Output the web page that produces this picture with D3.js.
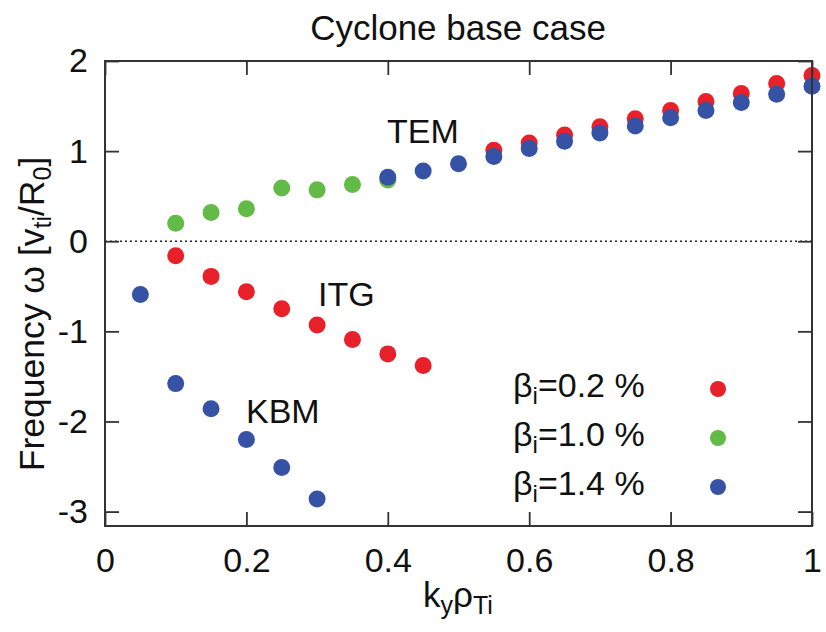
<!DOCTYPE html>
<html>
<head>
<meta charset="utf-8">
<script src="https://cdn.jsdelivr.net/npm/d3@7"></script>
<style>
  body { margin: 0; background: #fff; }
  text { font-family: "Liberation Sans", Arial, Helvetica, sans-serif; fill: #111; }
</style>
</head>
<body>
<div id="chart"></div>
<script>
var width = 826,
    height = 632;

// k_y rho_Ti values and frequencies
var kRed = [0.1, 0.15, 0.2, 0.25, 0.3, 0.35, 0.4, 0.45,
            0.55, 0.6, 0.65, 0.7, 0.75, 0.8, 0.85, 0.9, 0.95, 1.0];
var wRed = [-0.16, -0.39, -0.56, -0.75, -0.93, -1.09, -1.25, -1.38,
            1.01, 1.09, 1.18, 1.27, 1.36, 1.45, 1.55, 1.64, 1.75, 1.84];

var kGreen = [0.1, 0.15, 0.2, 0.25, 0.3, 0.35, 0.4];
var wGreen = [0.2, 0.32, 0.36, 0.59, 0.57, 0.63, 0.68];

var kBlue = [0.05, 0.1, 0.15, 0.2, 0.25, 0.3,
             0.4, 0.45, 0.5, 0.55, 0.6, 0.65, 0.7, 0.75, 0.8, 0.85, 0.9, 0.95, 1.0];
var wBlue = [-0.59, -1.58, -1.86, -2.2, -2.51, -2.86,
             0.71, 0.78, 0.86, 0.94, 1.03, 1.11, 1.2, 1.28, 1.37, 1.45, 1.54, 1.63, 1.72];

var seriesNames = ["0.2", "1.0", "1.4"];
var seriesColors = ["#e8202a", "#62bb46", "#3652a5"];

var xTicks = [0, 0.2, 0.4, 0.6, 0.8, 1];
var yTicks = [-3, -2, -1, 0, 1, 2];

var series = [
  { k: kRed, w: wRed },
  { k: kGreen, w: wGreen },
  { k: kBlue, w: wBlue }
];

var pLeft = 105, pRight = 812, pTop = 61, pBottom = 526;

var x = d3.scaleLinear().domain([0, 1]).range([pLeft, pRight]);
var y = d3.scaleLinear().domain([-3.16, 2]).range([pBottom, pTop]);

var svg = d3.select("#chart").append("svg")
    .attr("width", width)
    .attr("height", height);

// zero line
svg.append("line")
    .attr("x1", x(0)).attr("x2", x(1))
    .attr("y1", y(0)).attr("y2", y(0))
    .attr("stroke", "#222")
    .attr("stroke-width", 1.6)
    .attr("stroke-dasharray", "2,3");

// points, red first so blue sits on top
series.forEach(function(s, i) {
  svg.append("g").selectAll("circle")
      .data(s.k.map(function(k, j) { return { k: k, w: s.w[j] }; }))
      .enter().append("circle")
        .attr("cx", function(d) { return x(d.k); })
        .attr("cy", function(d) { return y(d.w); })
        .attr("r", 8.5)
        .attr("fill", seriesColors[i]);
});

// axes, ticks pointing inward on every side
var fontSize = "34px";

var gb = svg.append("g")
    .attr("transform", "translate(0," + pBottom + ")")
    .call(d3.axisBottom(x).tickValues(xTicks).tickSize(-14).tickPadding(22)
      .tickFormat(function(d) { return d3.format("~g")(d); }));
var gl = svg.append("g")
    .attr("transform", "translate(" + pLeft + ",0)")
    .call(d3.axisLeft(y).tickValues(yTicks).tickSize(-14).tickPadding(17)
      .tickFormat(function(d) { return String(d); }));
var gt = svg.append("g")
    .attr("transform", "translate(0," + pTop + ")")
    .call(d3.axisTop(x).tickValues(xTicks).tickSize(-14).tickFormat(""));
var gr = svg.append("g")
    .attr("transform", "translate(" + pRight + ",0)")
    .call(d3.axisRight(y).tickValues(yTicks).tickSize(-14).tickFormat(""));

[gb, gl, gt, gr].forEach(function(g) {
  g.select(".domain").remove();
  g.selectAll(".tick line").attr("stroke", "#333").attr("stroke-width", 1.8);
  g.selectAll("text")
      .attr("font-size", fontSize)
      .attr("font-family", "Liberation Sans, Arial, sans-serif")
      .attr("fill", "#111");
});

svg.append("rect")
    .attr("x", pLeft).attr("y", pTop)
    .attr("width", pRight - pLeft).attr("height", pBottom - pTop)
    .attr("fill", "none")
    .attr("stroke", "#333")
    .attr("stroke-width", 2);

// title
svg.append("text")
    .attr("x", 458).attr("y", 40)
    .attr("text-anchor", "middle")
    .attr("font-size", "35px")
    .text("Cyclone base case");

// x label
var xl = svg.append("text")
    .attr("x", 458).attr("y", 607)
    .attr("text-anchor", "middle")
    .attr("font-size", "35px");
xl.append("tspan").text("k");
xl.append("tspan").attr("font-size", "25px").attr("dy", 7).text("y");
xl.append("tspan").attr("dy", -7).text("ρ");
xl.append("tspan").attr("font-size", "25px").attr("dy", 7).text("Ti");

// y label
var yl = svg.append("text")
    .attr("transform", "translate(44,314) rotate(-90)")
    .attr("text-anchor", "middle")
    .attr("font-size", "35.5px");
yl.append("tspan").text("Frequency ω [v");
yl.append("tspan").attr("font-size", "25px").attr("dy", 7).text("ti");
yl.append("tspan").attr("dy", -7).text("/R");
yl.append("tspan").attr("font-size", "25px").attr("dy", 7).text("0");
yl.append("tspan").attr("dy", -7).text("]");

// mode labels
svg.append("text").attr("x", 387).attr("y", 143).attr("font-size", fontSize).text("TEM");
svg.append("text").attr("x", 318).attr("y", 306).attr("font-size", fontSize).text("ITG");
svg.append("text").attr("x", 246).attr("y", 423).attr("font-size", fontSize).text("KBM");

// legend
var legendY = [389, 438, 487];
seriesNames.forEach(function(name, i) {
  var t = svg.append("text")
      .attr("x", 513).attr("y", legendY[i] + 8)
      .attr("font-size", fontSize);
  t.append("tspan").text("β");
  t.append("tspan").attr("font-size", "24px").attr("dy", 7).text("i");
  t.append("tspan").attr("dy", -7).text("=" + name + " %");
  svg.append("circle")
      .attr("cx", 718).attr("cy", legendY[i])
      .attr("r", 8)
      .attr("fill", seriesColors[i]);
});
</script>
</body>
</html>
